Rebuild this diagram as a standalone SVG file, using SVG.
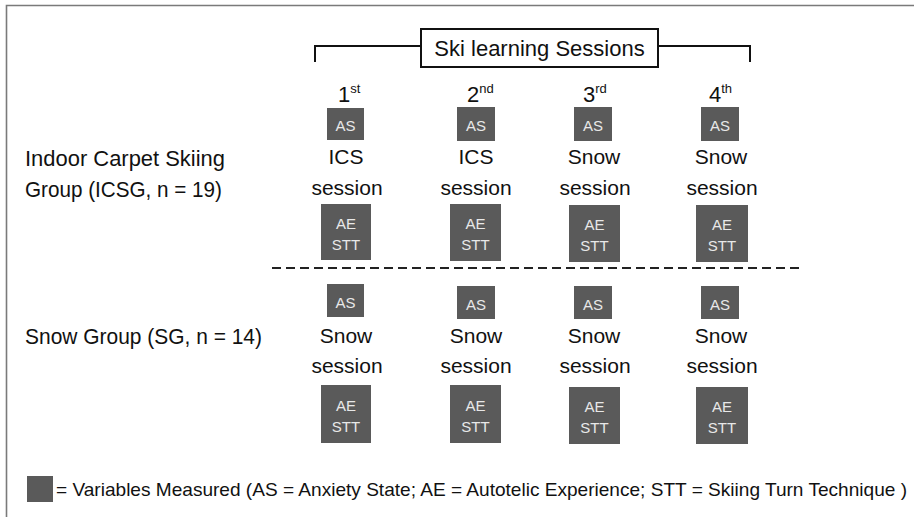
<svg xmlns="http://www.w3.org/2000/svg" width="914" height="517" viewBox="0 0 914 517">
<style>
  text { font-family: "Liberation Sans", Arial, sans-serif; fill: #111; }
  .lbl { font-size: 22px; }
  .col { font-size: 21px; text-anchor: middle; }
  .ord { font-size: 22px; }
  .sup { font-size: 13px; }
  .box { fill: #5a5a5a; }
  .bt { font-size: 15px; fill: #e8e8e8; text-anchor: middle; }
  .frame { fill: none; stroke: #7a7a7a; stroke-width: 1.6; }
  .br { fill: none; stroke: #111; stroke-width: 2; }
</style>
<rect width="914" height="517" fill="#fff"/>
<path class="frame" d="M6.5,517 V5.5 H914"/>

<g id="header">
  <path class="br" d="M315,62 V46 H421 M658,46 H750 V62"/>
  <rect x="421" y="29" width="237" height="38" fill="#fff" stroke="#111" stroke-width="2"/>
  <text x="539.5" y="56" class="lbl" text-anchor="middle">Ski learning Sessions</text>
</g>

<g id="ordinals">
  <text x="338" y="102" class="ord">1<tspan class="sup" dy="-9">st</tspan></text>
  <text x="467" y="102" class="ord">2<tspan class="sup" dy="-9">nd</tspan></text>
  <text x="583" y="102" class="ord">3<tspan class="sup" dy="-9">rd</tspan></text>
  <text x="709" y="102" class="ord">4<tspan class="sup" dy="-9">th</tspan></text>
</g>

<g id="icsg-label">
  <text x="25" y="166" class="lbl" textLength="200" lengthAdjust="spacingAndGlyphs">Indoor Carpet Skiing</text>
  <text x="25" y="197" class="lbl" textLength="197" lengthAdjust="spacingAndGlyphs">Group (ICSG, n = 19)</text>
</g>
<g id="sg-label">
  <text x="25" y="344" class="lbl" textLength="237" lengthAdjust="spacingAndGlyphs">Snow Group (SG, n = 14)</text>
</g>

<g id="icsg-s1">
  <rect class="box" x="327" y="108" width="37" height="32"/>
  <text class="bt" x="345.5" y="131">AS</text>
  <text class="col" x="346" y="164">ICS</text>
  <text class="col" x="347" y="195">session</text>
  <rect class="box" x="321" y="204" width="50" height="56"/>
  <text class="bt" x="346" y="229">AE</text>
  <text class="bt" x="346" y="250">STT</text>
</g>
<g id="icsg-s2">
  <rect class="box" x="457" y="107" width="38" height="34"/>
  <text class="bt" x="476" y="131">AS</text>
  <text class="col" x="476" y="164">ICS</text>
  <text class="col" x="476" y="195">session</text>
  <rect class="box" x="450" y="204" width="51" height="57"/>
  <text class="bt" x="475.5" y="229">AE</text>
  <text class="bt" x="475.5" y="250">STT</text>
</g>
<g id="icsg-s3">
  <rect class="box" x="574" y="107" width="38" height="34"/>
  <text class="bt" x="593" y="131">AS</text>
  <text class="col" x="594" y="164">Snow</text>
  <text class="col" x="595" y="195">session</text>
  <rect class="box" x="569" y="205" width="51" height="57"/>
  <text class="bt" x="594.5" y="230">AE</text>
  <text class="bt" x="594.5" y="251">STT</text>
</g>
<g id="icsg-s4">
  <rect class="box" x="701" y="107" width="38" height="34"/>
  <text class="bt" x="720" y="131">AS</text>
  <text class="col" x="721" y="164">Snow</text>
  <text class="col" x="722" y="195">session</text>
  <rect class="box" x="696" y="205" width="52" height="57"/>
  <text class="bt" x="722" y="230">AE</text>
  <text class="bt" x="722" y="251">STT</text>
</g>

<g id="connectors">
  <line x1="272" y1="268" x2="802" y2="268" stroke="#222" stroke-width="2" stroke-dasharray="9 5"/>
</g>

<g id="sg-s1">
  <rect class="box" x="327" y="284" width="37" height="33"/>
  <text class="bt" x="345.5" y="308">AS</text>
  <text class="col" x="346" y="343">Snow</text>
  <text class="col" x="347" y="373">session</text>
  <rect class="box" x="321" y="385" width="50" height="58"/>
  <text class="bt" x="346" y="411">AE</text>
  <text class="bt" x="346" y="432">STT</text>
</g>
<g id="sg-s2">
  <rect class="box" x="457" y="286" width="38" height="33"/>
  <text class="bt" x="476" y="310">AS</text>
  <text class="col" x="476" y="343">Snow</text>
  <text class="col" x="476" y="373">session</text>
  <rect class="box" x="450" y="385" width="51" height="58"/>
  <text class="bt" x="475.5" y="411">AE</text>
  <text class="bt" x="475.5" y="432">STT</text>
</g>
<g id="sg-s3">
  <rect class="box" x="574" y="286" width="38" height="33"/>
  <text class="bt" x="593" y="310">AS</text>
  <text class="col" x="594" y="343">Snow</text>
  <text class="col" x="595" y="373">session</text>
  <rect class="box" x="569" y="387" width="51" height="57"/>
  <text class="bt" x="594.5" y="412">AE</text>
  <text class="bt" x="594.5" y="433">STT</text>
</g>
<g id="sg-s4">
  <rect class="box" x="701" y="286" width="38" height="33"/>
  <text class="bt" x="720" y="310">AS</text>
  <text class="col" x="721" y="343">Snow</text>
  <text class="col" x="722" y="373">session</text>
  <rect class="box" x="696" y="387" width="52" height="57"/>
  <text class="bt" x="722" y="412">AE</text>
  <text class="bt" x="722" y="433">STT</text>
</g>

<g id="legend">
  <rect class="box" x="27" y="476" width="26" height="26"/>
  <text x="56" y="496" font-size="19" textLength="851" lengthAdjust="spacingAndGlyphs">= Variables Measured (AS = Anxiety State; AE = Autotelic Experience; STT = Skiing Turn Technique )</text>
</g>
</svg>
